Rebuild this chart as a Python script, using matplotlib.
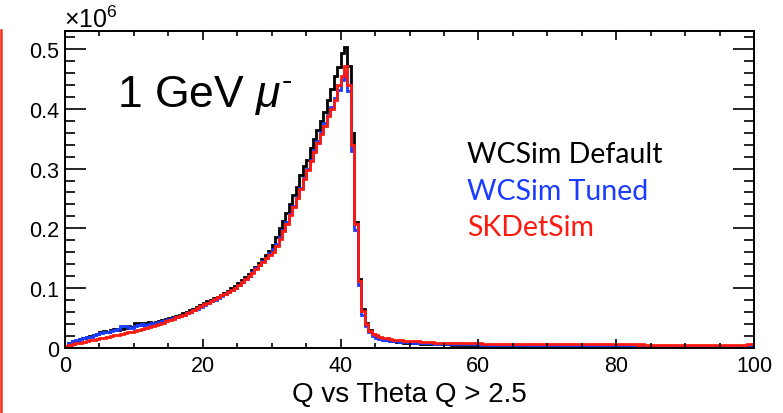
import numpy as np
import matplotlib
matplotlib.use("Agg")
import matplotlib.pyplot as plt
from matplotlib.lines import Line2D
from matplotlib.ticker import MultipleLocator, FixedLocator

plt.rcParams["font.family"] = ["Liberation Sans", "DejaVu Sans"]
plt.rcParams["mathtext.fontset"] = "custom"
plt.rcParams["mathtext.rm"] = "Liberation Sans"
plt.rcParams["mathtext.it"] = "Liberation Sans:italic"

# histogram: 200 bins of 0.5 over 0..100, contents in units of 1e6
x_lo, x_hi, n_bins = 0.0, 100.0, 200

wcsim_default = [
    0.004, 0.008, 0.012, 0.012, 0.015, 0.016, 0.019, 0.020, 0.021, 0.024,
    0.026, 0.028, 0.027, 0.030, 0.031, 0.030, 0.032, 0.034, 0.036, 0.035,
    0.041, 0.042, 0.038, 0.041, 0.043, 0.042, 0.044, 0.045, 0.046, 0.048,
    0.050, 0.052, 0.053, 0.056, 0.058, 0.061, 0.064, 0.066, 0.068, 0.072,
    0.076, 0.078, 0.080, 0.083, 0.086, 0.089, 0.092, 0.096, 0.100, 0.104,
    0.108, 0.113, 0.118, 0.124, 0.130, 0.136, 0.142, 0.149, 0.156, 0.163,
    0.172, 0.185, 0.200, 0.213, 0.226, 0.240, 0.255, 0.270, 0.290, 0.305,
    0.315, 0.335, 0.350, 0.365, 0.380, 0.395, 0.414, 0.433, 0.455, 0.470,
    0.493, 0.503, 0.472, 0.360, 0.210, 0.115, 0.065, 0.042, 0.030, 0.024,
    0.020, 0.017, 0.015, 0.013, 0.012, 0.011, 0.010, 0.010, 0.009, 0.009,
    0.008, 0.008, 0.008, 0.007, 0.007, 0.007, 0.007, 0.006, 0.006, 0.006,
    0.006, 0.006, 0.005, 0.005, 0.005, 0.005, 0.005, 0.005, 0.005, 0.005,
    0.005, 0.005, 0.004, 0.004, 0.004, 0.004, 0.004, 0.004, 0.004, 0.004,
    0.004, 0.004, 0.004, 0.003, 0.004, 0.004, 0.003, 0.004, 0.003, 0.004,
    0.003, 0.004, 0.003, 0.003, 0.004, 0.003, 0.003, 0.003, 0.004, 0.003,
    0.003, 0.003, 0.003, 0.004, 0.003, 0.003, 0.003, 0.003, 0.003, 0.003,
    0.003, 0.003, 0.003, 0.003, 0.003, 0.003, 0.003, 0.003, 0.003, 0.003,
    0.003, 0.003, 0.003, 0.003, 0.003, 0.003, 0.003, 0.003, 0.003, 0.003,
    0.003, 0.003, 0.003, 0.003, 0.003, 0.003, 0.003, 0.003, 0.003, 0.003,
    0.003, 0.003, 0.003, 0.003, 0.003, 0.003, 0.003, 0.003, 0.003, 0.004,
]

wcsim_tuned = [
    0.004, 0.008, 0.012, 0.013, 0.015, 0.017, 0.018, 0.019, 0.021, 0.023,
    0.025, 0.026, 0.027, 0.029, 0.030, 0.032, 0.036, 0.037, 0.035, 0.034,
    0.036, 0.039, 0.040, 0.038, 0.040, 0.042, 0.041, 0.043, 0.045, 0.046,
    0.048, 0.050, 0.051, 0.053, 0.056, 0.058, 0.061, 0.063, 0.066, 0.069,
    0.072, 0.075, 0.078, 0.081, 0.084, 0.087, 0.090, 0.094, 0.097, 0.101,
    0.105, 0.110, 0.115, 0.121, 0.127, 0.133, 0.139, 0.145, 0.151, 0.158,
    0.165, 0.174, 0.185, 0.197, 0.210, 0.224, 0.238, 0.252, 0.268, 0.284,
    0.300, 0.315, 0.331, 0.346, 0.361, 0.376, 0.390, 0.403, 0.418, 0.432,
    0.448, 0.462, 0.430, 0.330, 0.198, 0.105, 0.056, 0.036, 0.026, 0.020,
    0.017, 0.015, 0.014, 0.013, 0.012, 0.011, 0.011, 0.010, 0.010, 0.010,
    0.009, 0.009, 0.009, 0.008, 0.008, 0.008, 0.008, 0.007, 0.007, 0.007,
    0.007, 0.007, 0.006, 0.006, 0.006, 0.006, 0.006, 0.006, 0.006, 0.006,
    0.005, 0.005, 0.005, 0.005, 0.005, 0.005, 0.005, 0.005, 0.005, 0.005,
    0.005, 0.005, 0.005, 0.005, 0.004, 0.004, 0.005, 0.004, 0.004, 0.004,
    0.004, 0.004, 0.004, 0.004, 0.004, 0.004, 0.004, 0.004, 0.004, 0.004,
    0.004, 0.004, 0.004, 0.004, 0.004, 0.004, 0.004, 0.004, 0.004, 0.004,
    0.004, 0.004, 0.004, 0.004, 0.004, 0.004, 0.004, 0.004, 0.004, 0.004,
    0.004, 0.004, 0.004, 0.004, 0.004, 0.004, 0.004, 0.004, 0.004, 0.004,
    0.004, 0.004, 0.004, 0.004, 0.004, 0.004, 0.004, 0.004, 0.004, 0.004,
    0.004, 0.004, 0.004, 0.004, 0.004, 0.004, 0.004, 0.004, 0.004, 0.004,
]

skdetsim = [
    0.003, 0.005, 0.006, 0.008, 0.009, 0.010, 0.011, 0.013, 0.014, 0.015,
    0.016, 0.017, 0.019, 0.020, 0.021, 0.022, 0.023, 0.025, 0.026, 0.027,
    0.028, 0.030, 0.032, 0.033, 0.035, 0.036, 0.038, 0.040, 0.042, 0.045,
    0.047, 0.049, 0.051, 0.053, 0.056, 0.058, 0.061, 0.064, 0.067, 0.070,
    0.073, 0.076, 0.079, 0.082, 0.085, 0.088, 0.091, 0.094, 0.097, 0.101,
    0.105, 0.110, 0.115, 0.120, 0.126, 0.132, 0.138, 0.144, 0.150, 0.156,
    0.160, 0.170, 0.182, 0.195, 0.208, 0.222, 0.236, 0.250, 0.266, 0.282,
    0.298, 0.312, 0.328, 0.343, 0.358, 0.372, 0.388, 0.400, 0.415, 0.440,
    0.455, 0.472, 0.440, 0.340, 0.208, 0.112, 0.062, 0.040, 0.029, 0.024,
    0.021, 0.019, 0.017, 0.016, 0.015, 0.014, 0.013, 0.013, 0.012, 0.012,
    0.011, 0.011, 0.011, 0.010, 0.010, 0.010, 0.010, 0.009, 0.009, 0.009,
    0.009, 0.009, 0.008, 0.008, 0.008, 0.008, 0.008, 0.008, 0.008, 0.008,
    0.008, 0.007, 0.007, 0.007, 0.007, 0.007, 0.007, 0.007, 0.007, 0.007,
    0.007, 0.007, 0.007, 0.007, 0.007, 0.007, 0.007, 0.006, 0.007, 0.006,
    0.006, 0.006, 0.006, 0.006, 0.006, 0.006, 0.006, 0.006, 0.006, 0.006,
    0.006, 0.006, 0.006, 0.006, 0.006, 0.006, 0.006, 0.006, 0.006, 0.006,
    0.006, 0.006, 0.006, 0.006, 0.006, 0.006, 0.005, 0.006, 0.005, 0.005,
    0.005, 0.005, 0.005, 0.005, 0.005, 0.005, 0.005, 0.005, 0.005, 0.005,
    0.005, 0.005, 0.005, 0.005, 0.005, 0.005, 0.005, 0.005, 0.005, 0.005,
    0.005, 0.005, 0.005, 0.005, 0.005, 0.005, 0.005, 0.005, 0.006, 0.007,
]

series_names = ["WCSim Default", "WCSim Tuned", "SKDetSim"]
series_colors = ["#000000", "#1a3cff", "#ff1a10"]


def main():
    edges = np.linspace(x_lo, x_hi, n_bins + 1)

    fig = plt.figure(figsize=(7.83, 4.14), dpi=100)
    ax = fig.add_axes([65/783, 1 - 349/414, (754 - 65)/783, (349 - 32)/414])

    for vals, col in zip([wcsim_default, wcsim_tuned, skdetsim], series_colors):
        ax.stairs(vals, edges, color=col, lw=2.0)

    ax.set_xlim(x_lo, x_hi)
    ax.set_ylim(0, 0.53)

    ax.xaxis.set_major_locator(MultipleLocator(20))
    ax.xaxis.set_minor_locator(MultipleLocator(5))
    ax.yaxis.set_major_locator(FixedLocator([0, 0.1, 0.2, 0.3, 0.4, 0.5]))
    ax.yaxis.set_minor_locator(MultipleLocator(0.02))
    ax.set_yticklabels(["0", "0.1", "0.2", "0.3", "0.4", "0.5"])

    for s in ax.spines.values():
        s.set_linewidth(1.4)
    ax.tick_params(axis="both", which="both", direction="in",
                   top=True, right=True, width=1.2, labelsize=15.5)
    ax.tick_params(axis="x", which="major", length=6.5, pad=5)
    ax.tick_params(axis="x", which="minor", length=3.5)
    ax.tick_params(axis="y", which="major", length=15, pad=4)
    ax.tick_params(axis="y", which="minor", length=7.5)

    ax.set_xlabel("Q vs Theta Q > 2.5", fontsize=20, labelpad=4)

    fig.text(64/783, 1 - 20/414, r"$\times10^{6}$", fontsize=18, va="center", ha="left")

    ax.text(0.075, 0.80, r"1 GeV $\mathit{\mu}^{\text{-}}$", transform=ax.transAxes,
            fontsize=32, va="center", ha="left")

    y_pos = [155, 192, 228]
    for name, col, yp in zip(series_names, series_colors, y_pos):
        fig.text(467/783, 1 - yp/414, name, color=col, fontsize=20.5,
                 family=["Lato", "DejaVu Sans"], va="center", ha="left")

    # red slide-frame edge at the far left
    fig.add_artist(Line2D([1.2/783, 1.2/783], [0, 1 - 31/414], color="#ff2a10",
                          lw=1.8, transform=fig.transFigure))

    fig.savefig("out.png", dpi=100)


if __name__ == "__main__":
    main()
